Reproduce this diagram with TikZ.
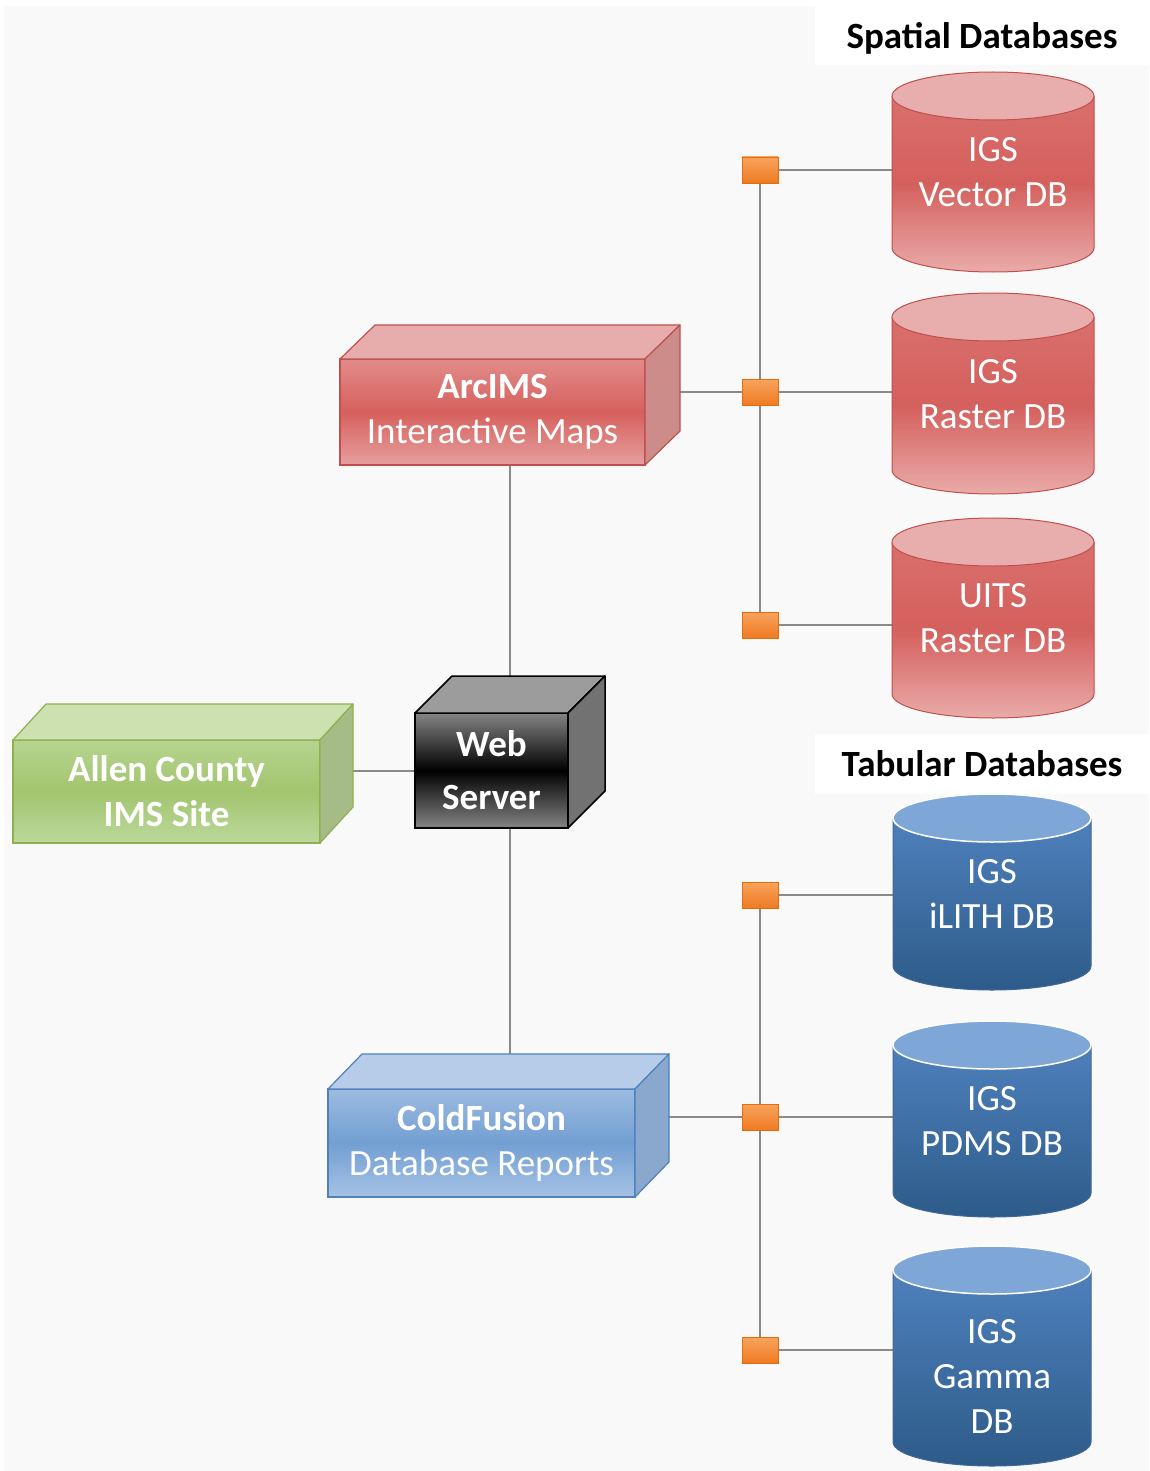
\documentclass[tikz,border=0pt]{standalone}
\usepackage{fontspec}
\setmainfont{Carlito}
\usetikzlibrary{calc}
\pgfdeclarelayer{bglayer}
\pgfdeclarelayer{wires}
\pgfsetlayers{bglayer,wires,main}

\definecolor{pagegray}{HTML}{F9F9F9}
\definecolor{wiregray}{HTML}{8A8A8A}
% red
\definecolor{redA}{HTML}{E18C8A}
\definecolor{redB}{HTML}{D6605D}
\definecolor{redC}{HTML}{E5A09E}
\definecolor{redTop}{HTML}{E6ADAC}
\definecolor{redSide}{HTML}{CB8C8A}
\definecolor{redLine}{HTML}{C0504D}
\definecolor{redCylTop}{HTML}{E8AEAD}
\definecolor{redBodyA}{HTML}{D96F6C}
\definecolor{redBodyB}{HTML}{D4605D}
\definecolor{redBodyC}{HTML}{E9ABA9}
% blue
\definecolor{blueA}{HTML}{9DBBE0}
\definecolor{blueB}{HTML}{729FD3}
\definecolor{blueC}{HTML}{A6C2E4}
\definecolor{blueTop}{HTML}{B6CCE8}
\definecolor{blueSide}{HTML}{8AA8CD}
\definecolor{blueLine}{HTML}{4F81BD}
\definecolor{blueCylTop}{HTML}{7EA7D8}
\definecolor{blueBodyA}{HTML}{4E80BC}
\definecolor{blueBodyB}{HTML}{2D5B89}
% green
\definecolor{greenA}{HTML}{B6D48F}
\definecolor{greenB}{HTML}{A2C56F}
\definecolor{greenC}{HTML}{BCD89B}
\definecolor{greenTop}{HTML}{CDE1B0}
\definecolor{greenSide}{HTML}{A6BC86}
\definecolor{greenLine}{HTML}{8FB04E}
% grey/black
\definecolor{webA}{HTML}{858585}
\definecolor{webTop}{HTML}{9C9C9C}
\definecolor{webSide}{HTML}{727272}
% orange
\definecolor{orA}{HTML}{F8A35E}
\definecolor{orB}{HTML}{EE7B23}
\definecolor{orLine}{HTML}{E46C0A}

\tikzset{
  boxtext/.style={text=white, align=center, inner sep=0pt, outer sep=0pt,
    font=\fontsize{37}{45}\selectfont},
  redfront/.style={boxtext, draw=redLine, line width=1.2pt,
    top color=redA, bottom color=redC, middle color=redB},
  redtop/.style={fill=redTop, draw=redLine, line width=1.2pt, line join=round},
  redside/.style={fill=redSide, draw=redLine, line width=1.2pt, line join=round},
  bluefront/.style={boxtext, draw=blueLine, line width=1.2pt,
    top color=blueA, bottom color=blueC, middle color=blueB},
  bluetop/.style={fill=blueTop, draw=blueLine, line width=1.2pt, line join=round},
  blueside/.style={fill=blueSide, draw=blueLine, line width=1.2pt, line join=round},
  greenfront/.style={boxtext, draw=greenLine, line width=1.2pt,
    top color=greenA, bottom color=greenC, middle color=greenB},
  greentop/.style={fill=greenTop, draw=greenLine, line width=1.2pt, line join=round},
  greenside/.style={fill=greenSide, draw=greenLine, line width=1.2pt, line join=round},
  webfront/.style={boxtext, draw=black, line width=1.5pt,
    top color=webA, bottom color=webA, middle color=black,
    font=\fontsize{37}{53}\selectfont\bfseries},
  webtop/.style={fill=webTop, draw=black, line width=1.5pt, line join=round},
  webside/.style={fill=webSide, draw=black, line width=1.5pt, line join=round},
  redbody/.style={top color=redBodyA, bottom color=redBodyC, middle color=redBodyB},
  redbodyline/.style={draw=redLine, line width=1pt},
  redcyltop/.style={fill=redCylTop, draw=redLine, line width=1pt},
  bluebody/.style={top color=blueBodyA, bottom color=blueBodyB},
  bluebodyline/.style={draw=blueLine!80!black, line width=1pt},
  bluecyltop/.style={fill=blueCylTop, draw=white, line width=1.5pt},
  cyltext/.style={boxtext},
  hdr/.style={fill=white, text=black, inner sep=0pt, minimum width=334pt,
    minimum height=60pt, text depth=0pt, font=\fontsize{37}{45}\selectfont\bfseries},
  sqr/.style={draw=orLine, line width=0.8pt, top color=orA, bottom color=orB,
    minimum width=36pt, minimum height=26pt, inner sep=0pt},
  wire/.style={draw=wiregray, line width=2pt},
}

% #1 style prefix, #2 name, #3 x1, #4 y1, #5 x2, #6 y2, #7 dx, #8 dy, #9 text
\newcommand\solidbox[9]{%
  \node[#1front, minimum width={(#5-#3)*1pt}, minimum height={(#6-#4)*1pt}]
    (#2) at ({(#3+#5)/2},{(#4+#6)/2}) {#9};
  \filldraw[#1top] (#2.north west) -- ++(#7,-#8) -- ++(#5-#3,0)
    -- (#2.north east) -- cycle;
  \filldraw[#1side] (#2.north east) -- ++(#7,-#8) -- ++(0,#6-#4)
    -- (#2.south east) -- cycle;
}

% #1 prefix, #2 name, #3 cx, #4 rx, #5 top, #6 bottom, #7 text centre y, #8 text
\newcommand\dbcyl[8]{%
  \path[#1body] (#3-#4,#5+24) -- (#3-#4,#6-24)
    arc[start angle=180, end angle=360, x radius=#4pt, y radius=24pt]
    -- (#3+#4,#5+24) -- cycle;
  \draw[#1bodyline] (#3-#4,#5+24) -- (#3-#4,#6-24)
    arc[start angle=180, end angle=360, x radius=#4pt, y radius=24pt]
    -- (#3+#4,#5+24);
  \filldraw[#1cyltop] (#3,#5+24) ellipse[x radius=#4pt, y radius=24pt];
  \node[cyltext, minimum width={2*#4pt}] (#2) at (#3,#7) {#8};
}

\begin{document}
\begin{tikzpicture}[x=1pt, y=-1pt]
\useasboundingbox (0,0) rectangle (1149,1471);
\begin{pgfonlayer}{bglayer}
  \fill[white] (0,0) rectangle (1149,1471);
  \fill[pagegray] (4,6) rectangle (1149,1471);
\end{pgfonlayer}

% headers
\node[hdr] (spatial) at (982,35) {Spatial Databases};
\node[hdr] (tabular) at (982,764) {Tabular Databases};

% 3-D boxes
\solidbox{red}{arc}{340}{359}{645}{465}{35}{34}{\textbf{ArcIMS}\\Interactive Maps}
\solidbox{web}{web}{415}{713}{568}{828}{37}{37}{Web\\Server}
\solidbox{green}{allen}{13}{740}{320}{843}{33}{36}{\textbf{Allen County}\\\textbf{IMS Site}}
\solidbox{blue}{cold}{328}{1089}{635}{1197}{34}{35}{\textbf{ColdFusion}\\Database Reports}
\coordinate (webc) at ($(web.center)+(18,-18)$);

% cylinders
\dbcyl{red}{vec}{993}{101}{72}{272}{172}{IGS\\Vector DB}
\dbcyl{red}{ras}{993}{101}{293}{494}{394}{IGS\\Raster DB}
\dbcyl{red}{uits}{993}{101}{518}{718}{618}{UITS\\Raster DB}
\dbcyl{blue}{ilith}{992}{99}{794}{990}{894}{IGS\\iLITH DB}
\dbcyl{blue}{pdms}{992}{99}{1021}{1217}{1121}{IGS\\PDMS DB}
\dbcyl{blue}{gamma}{992}{99}{1246}{1466}{1376}{IGS\\Gamma\\DB}

% connector squares
\node[sqr] (sq1) at (760,170) {};
\node[sqr] (sq2) at (760,392) {};
\node[sqr] (sq3) at (760,625) {};
\node[sqr] (sq4) at (760,895) {};
\node[sqr] (sq5) at (760,1117) {};
\node[sqr] (sq6) at (760,1350) {};

\begin{pgfonlayer}{wires}
  \draw[wire] (sq1.center) -- (sq3.center);
  \draw[wire] (sq4.center) -- (sq6.center);
  \draw[wire] (sq1.center) -- (sq1 -| vec.west);
  \draw[wire] (sq2.center) -- (sq2 -| ras.west);
  \draw[wire] (sq3.center) -- (sq3 -| uits.west);
  \draw[wire] (sq4.center) -- (sq4 -| ilith.west);
  \draw[wire] (sq5.center) -- (sq5 -| pdms.west);
  \draw[wire] (sq6.center) -- (sq6 -| gamma.west);
  \draw[wire] (sq2.center) -- (sq2 -| arc.center);
  \draw[wire] (sq5.center) -- (sq5 -| cold.center);
  \draw[wire] (webc) -- (webc |- arc.center);
  \draw[wire] (webc) -- (webc |- cold.center);
  \draw[wire] (web.center) -- (web.center -| allen.center);
\end{pgfonlayer}
\end{tikzpicture}
\end{document}
